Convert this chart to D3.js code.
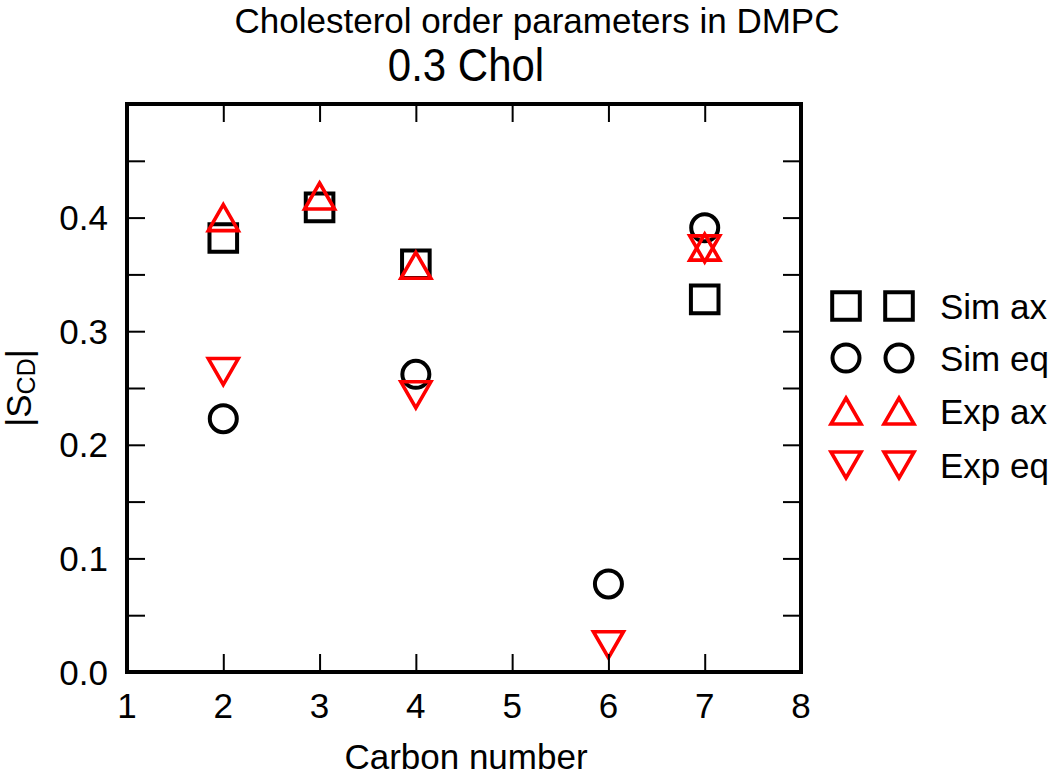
<!DOCTYPE html>
<html>
<head>
<meta charset="utf-8">
<script src="https://cdn.jsdelivr.net/npm/d3@7"></script>
<style>
  html, body { margin: 0; padding: 0; background: #fff; }
  svg { display: block; }
  text { font-family: "Liberation Sans", Arial, Helvetica, sans-serif; fill: #000; }
</style>
</head>
<body>
<svg id="chart" width="1050" height="777"></svg>
<script>
// ---- data ----
const title = "Cholesterol order parameters in DMPC";
const subtitle = "0.3 Chol";
const xLabel = "Carbon number";
const xTicks = [1, 2, 3, 4, 5, 6, 7, 8];
const yTickLabels = [0.0, 0.1, 0.2, 0.3, 0.4];
const yMinorTicks = [0.05, 0.1, 0.15, 0.2, 0.25, 0.3, 0.35, 0.4, 0.45];

const simAxCarbons = [2, 3, 4, 7];
const simAxValues  = [0.382, 0.409, 0.359, 0.328];
const simEqCarbons = [2, 4, 6, 7];
const simEqValues  = [0.223, 0.262, 0.0775, 0.391];
const expAxCarbons = [2, 3, 4, 7];
const expAxValues  = [0.400, 0.419, 0.358, 0.374];
const expEqCarbons = [2, 4, 6, 7];
const expEqValues  = [0.2645, 0.244, 0.024, 0.3725];

const seriesNames = ["Sim ax", "Sim eq", "Exp ax", "Exp eq"];

// ---- layout ----
const svg = d3.select("#chart");
const L = 127, R = 801, T = 104, B = 672;
const x = d3.scaleLinear().domain([1, 8]).range([L, R]);
const y = d3.scaleLinear().domain([0, 0.5]).range([B, T]);

const series = [
  { name: seriesNames[0], xs: simAxCarbons, ys: simAxValues, shape: "square", color: "#000" },
  { name: seriesNames[1], xs: simEqCarbons, ys: simEqValues, shape: "circle", color: "#000" },
  { name: seriesNames[2], xs: expAxCarbons, ys: expAxValues, shape: "up", color: "#ff0000" },
  { name: seriesNames[3], xs: expEqCarbons, ys: expEqValues, shape: "down", color: "#ff0000" }
];

function markerPath(shape) {
  const s = 27.6 / 2;
  if (shape === "square") return `M${-s},${-s}H${s}V${s}H${-s}Z`;
  if (shape === "circle") { const r = 13.5; return `M${r},0A${r},${r} 0 1,1 ${-r},0A${r},${r} 0 1,1 ${r},0Z`; }
  const w = 15, h = 13;
  if (shape === "up") return `M0,${-h}L${w},${h}L${-w},${h}Z`;
  return `M0,${h}L${w},${-h}L${-w},${-h}Z`;
}

// ---- markers ----
const gPts = svg.append("g");
series.forEach(sr => {
  gPts.selectAll(null)
    .data(sr.xs.map((c, i) => ({ c, v: sr.ys[i] })))
    .enter().append("path")
    .attr("d", markerPath(sr.shape))
    .attr("transform", d => `translate(${x(d.c)},${y(d.v)})`)
    .attr("fill", "none")
    .attr("stroke", sr.color)
    .attr("stroke-width", sr.shape === "square" || sr.shape === "circle" ? 4 : 3.6)
    .attr("stroke-linejoin", "miter");
});

// ---- axes ----
const tickLen = 18;
const innerX = xTicks.filter(t => t > 1 && t < 8);
const xAxisB = d3.axisTop(x).tickValues(innerX).tickSize(tickLen).tickFormat("");
const xAxisT = d3.axisBottom(x).tickValues(innerX).tickSize(tickLen).tickFormat("");
const yAxisL = d3.axisRight(y).tickValues(yMinorTicks).tickSize(tickLen).tickFormat("");
const yAxisR = d3.axisLeft(y).tickValues(yMinorTicks).tickSize(tickLen).tickFormat("");
[[xAxisB, `translate(0,${B})`], [xAxisT, `translate(0,${T})`],
 [yAxisL, `translate(${L},0)`], [yAxisR, `translate(${R},0)`]].forEach(([ax, tr]) => {
  const g = svg.append("g").attr("transform", tr).call(ax);
  g.select(".domain").remove();
  g.selectAll(".tick line").attr("stroke", "#000").attr("stroke-width", 2);
});

// frame
svg.append("rect")
  .attr("x", L).attr("y", T).attr("width", R - L).attr("height", B - T)
  .attr("fill", "none").attr("stroke", "#000").attr("stroke-width", 4);

// tick labels
svg.append("g").selectAll("text").data(xTicks).enter().append("text")
  .attr("x", d => x(d)).attr("y", 718)
  .attr("text-anchor", "middle").attr("font-size", 35)
  .text(d => d);
svg.append("g").selectAll("text").data(yTickLabels).enter().append("text")
  .attr("x", 108).attr("y", d => y(d) + 12.5)
  .attr("text-anchor", "end").attr("font-size", 35)
  .text(d => d3.format(".1f")(d));

// axis labels
svg.append("text").attr("x", 466).attr("y", 769)
  .attr("text-anchor", "middle").attr("font-size", 35).text(xLabel);
const yl = svg.append("text")
  .attr("transform", `translate(31,388) rotate(-90)`)
  .attr("text-anchor", "middle").attr("font-size", 35);
yl.append("tspan").text("|S");
yl.append("tspan").attr("font-size", 25).attr("dy", 4).text("CD");
yl.append("tspan").attr("dy", -4).text("|");

// titles
svg.append("text").attr("x", 537).attr("y", 33)
  .attr("text-anchor", "middle").attr("font-size", 35).text(title);
svg.append("text").attr("transform", "translate(466,81) scale(1,1.1)")
  .attr("text-anchor", "middle").attr("font-size", 42).text(subtitle);

// legend
const legRows = [306, 358, 411, 465];
const lg = svg.append("g");
series.forEach((sr, i) => {
  [846, 899].forEach(mx => {
    lg.append("path")
      .attr("d", markerPath(sr.shape))
      .attr("transform", `translate(${mx},${legRows[i]})`)
      .attr("fill", "none").attr("stroke", sr.color)
      .attr("stroke-width", sr.shape === "square" || sr.shape === "circle" ? 4 : 3.6);
  });
  lg.append("text").attr("x", 940).attr("y", legRows[i] + 12.5)
    .attr("font-size", 35).text(sr.name);
});
</script>
</body>
</html>
